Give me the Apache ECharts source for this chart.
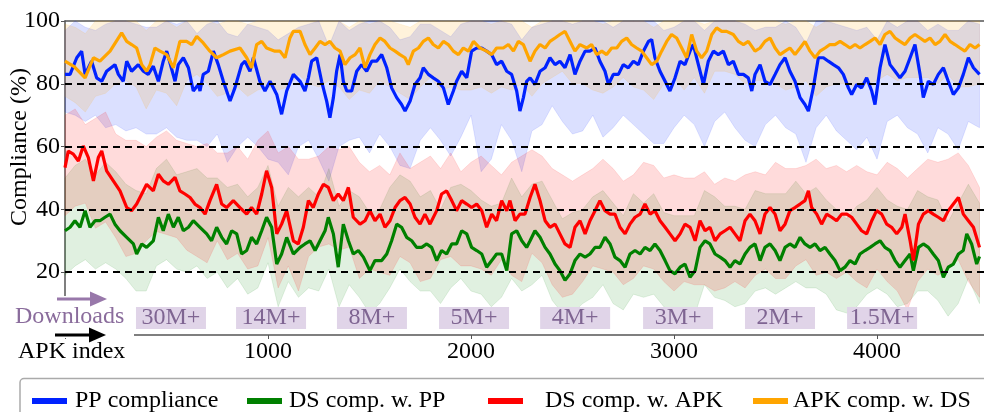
<!DOCTYPE html>
<html><head><meta charset="utf-8">
<script src="https://cdn.jsdelivr.net/npm/echarts@6/dist/echarts.min.js"></script>
<style>html,body{margin:0;padding:0;background:#fff}#c{width:984px;height:412px}</style>
</head><body><div id="c"></div><script>
// ---- mean curves: [APK index, compliance %] ----
const ppLine = [[0,83],[25,83],[58,88.3],[82,90.4],[99,83],[131,87.2],[156,81.9],[181,80.8],[205,84],[246,86.1],[263,83],[287,80.8],[304,87.2],[328,84],[361,86.1],[386,84],[410,83],[435,85.6],[460,80.8],[484,87.2],[501,90.4],[542,80.8],[558,86.1],[583,88.3],[608,85.1],[632,77.7],[657,79.8],[665,77.7],[681,83],[706,84],[731,90.4],[755,86.1],[780,80.8],[813,74.5],[837,78.7],[870,86.1],[887,87.2],[911,84],[928,88.3],[960,80.8],[985,77.7],[1010,80.8],[1043,76.6],[1067,70.3],[1092,77.7],[1125,83],[1158,80.8],
[1182,77.7],[1199,81.9],[1215,87.2],[1240,88.3],[1264,80.8],[1289,74.5],[1305,69.2],[1322,75.6],[1338,84],[1355,89.3],[1371,80.8],[1388,77.7],[1412,77.7],[1437,84],[1461,86.1],[1486,84],[1511,87.2],[1535,87.2],[1560,89.3],[1585,85.1],[1609,78.7],[1634,75.6],[1658,73.4],[1675,71.3],[1700,74.5],[1724,79.8],[1749,81.9],[1765,85.1],[1790,83],[1814,81.9],[1839,80.8],[1864,78.7],[1888,73.4],[1913,77.7],[1929,80.8],[1954,84],[1979,81.9],[2003,90.4],[2028,91.4],[2053,91.4],[2077,90.4],[2102,89.3],[2126,86.1],[2151,87.2],[2176,84],[2200,83],[2225,77.7],[2241,71.3],
[2258,75.6],[2274,80.8],[2291,81.9],[2315,79.8],[2340,84],[2365,85.1],[2389,88.3],[2414,86.1],[2438,87.2],[2463,85.1],[2488,89.3],[2512,83],[2537,87.2],[2562,90.4],[2586,90.4],[2611,91.4],[2635,87.2],[2660,84],[2677,79.8],[2701,83],[2726,83],[2750,86.1],[2775,85.1],[2800,87.2],[2824,86.1],[2849,90.4],[2874,93.5],[2890,94.1],[2906,88.3],[2931,84],[2956,80.8],[2980,77.7],[3005,81.9],[3030,87.2],[3054,86.1],[3079,90.4],[3095,92.5],[3120,86.1],[3145,79.8],[3169,87.2],[3194,90.4],[3218,89.3],[3243,90.4],[3268,86.1],[3292,87.2],[3317,83],[3342,83],[3366,81.9],[3383,77.7],
[3399,83],[3424,86.1],[3448,80.8],[3473,79.8],[3498,83],[3522,86.1],[3547,88.3],[3571,84],[3596,80.8],[3621,75.6],[3645,73.4],[3662,71.3],[3686,78.7],[3711,88.3],[3736,88.3],[3760,87.2],[3785,86.1],[3810,85.1],[3834,83],[3859,78.7],[3875,76.6],[3900,79.8],[3924,78.7],[3949,81.9],[3974,77.7],[3990,73.4],[4015,85.1],[4039,92.5],[4064,86.1],[4089,84],[4113,81.9],[4138,84],[4163,88.3],[4187,92.5],[4212,83],[4228,75.6],[4253,80.8],[4277,79.8],[4302,83],[4327,85.1],[4351,80.8],[4376,76.6],[4401,78.7],[4425,83],[4450,88.3],[4475,85.1],[4505,83]];

const dsPpLine = [[0,33.2],[25,34.3],[49,36.4],[74,34.3],[99,39.6],[123,34.3],[148,36.4],[172,36.4],[197,37.5],[222,38.5],[246,35.3],[271,33.2],[304,31.1],[337,29],[353,25.8],[378,29],[402,27.9],[435,30],[460,37.5],[484,33.2],[509,38.5],[534,34.3],[558,37.5],[583,33.2],[608,34.3],[632,36.4],[665,34.3],[698,32.2],[722,30],[747,34.3],[772,31.1],[796,29],[821,33.2],[846,32.2],[870,25.8],[895,26.9],[919,31.1],[944,29],[969,33.2],[993,37.5],[1018,34.3],[1043,22.6],[1067,25.8],[1092,31.1],[1125,25.8],
[1158,27.9],[1182,29],[1207,30],[1232,26.9],[1256,30],[1281,33.2],[1297,37.5],[1322,32.2],[1346,21.6],[1371,35.3],[1396,30],[1420,25.8],[1445,26.9],[1470,24.8],[1502,20.5],[1527,23.7],[1560,23.7],[1585,25.8],[1609,30],[1634,35.3],[1658,34.3],[1683,31.1],[1708,30],[1732,27.9],[1757,27.9],[1782,29],[1806,27.9],[1831,23.7],[1855,26.9],[1880,25.8],[1905,29],[1929,29],[1954,33.2],[1979,32.2],[2003,27.9],[2028,26.9],[2053,25.8],[2077,21.6],[2102,23.7],[2126,25.8],[2151,25.8],[2176,20.5],[2200,32.2],[2225,33.2],[2250,30],[2274,27.9],
[2291,30],[2315,33.2],[2340,31.1],[2365,27.9],[2389,25.8],[2414,22.6],[2438,20.5],[2463,17.4],[2488,19.5],[2512,23.7],[2537,25.8],[2562,24.8],[2586,25.8],[2611,27.9],[2635,27.9],[2660,31.1],[2685,29],[2709,24.8],[2734,23.7],[2759,21.6],[2783,25.8],[2808,26.9],[2833,25.8],[2857,27.9],[2882,26.9],[2906,29],[2931,26.9],[2956,23.7],[2980,20.5],[3005,19.5],[3030,21.6],[3054,22.6],[3079,18.4],[3104,20.5],[3128,27.9],[3153,30],[3177,29],[3202,25.8],[3227,24.8],[3251,23.7],[3276,21.6],[3300,23.7],[3325,22.6],[3350,25.8],[3374,27.9],
[3399,29],[3424,23.7],[3448,27.9],[3473,29],[3498,26.9],[3522,23.7],[3547,27.9],[3571,29],[3596,27.9],[3621,31.1],[3645,29],[3670,27.9],[3695,29],[3719,26.9],[3744,27.9],[3768,25.8],[3793,23.7],[3818,20.5],[3842,21.6],[3867,23.7],[3892,22.6],[3916,25.8],[3941,26.9],[3966,27.9],[3990,29],[4015,30],[4039,27.9],[4064,26.9],[4089,23.7],[4113,21.6],[4138,23.7],[4163,25.8],[4179,20.5],[4204,27.9],[4228,29],[4253,27.9],[4277,25.8],[4302,23.7],[4327,18.4],[4351,21.6],[4376,22.6],[4401,25.8],[4425,26.9],[4442,32.2],[4466,29],[4491,22.6],[4505,25]];

const dsApkLine = [[0,53.3],[16,58.6],[41,57.6],[66,55.4],[90,60.2],[115,56.5],[140,49.1],[164,56.5],[181,58.6],[205,52.3],[238,49.1],[271,45.9],[304,40.6],[328,39.6],[353,41.7],[378,44.9],[402,48],[435,45.9],[460,51.2],[484,49.1],[509,48],[542,50.2],[566,45.9],[591,44.9],[616,43.8],[640,41.7],[665,40.6],[690,38.5],[714,42.8],[747,48],[772,41.7],[796,40.6],[829,42.8],[862,40.6],[895,38.5],[919,40.6],[944,38.5],[969,44.9],[993,52.3],[1018,47],[1043,32.2],[1067,35.3],[1092,39.6],[1125,30],
[1149,29],[1174,34.3],[1199,42.8],[1223,40.6],[1248,44.9],[1273,48],[1297,47],[1322,42.8],[1346,44.9],[1371,42.8],[1396,47],[1420,37.5],[1453,35.3],[1478,36.4],[1502,39.6],[1527,36.4],[1552,38.5],[1576,34.3],[1601,36.4],[1626,40.6],[1650,42.8],[1675,43.8],[1700,41.7],[1724,37.5],[1749,35.3],[1773,38.5],[1798,35.3],[1831,39.6],[1855,44.9],[1880,45.9],[1905,42.8],[1929,39.6],[1954,42.8],[1979,41.7],[2003,40.6],[2028,41.7],[2053,39.6],[2077,34.3],[2102,38.5],[2126,36.4],[2151,42.8],[2176,39.6],[2192,42.8],[2217,36.4],[2241,38.5],
[2266,38.5],[2291,43.8],[2315,48],[2340,42.8],[2365,36.4],[2389,34.3],[2414,35.3],[2438,32.2],[2463,29],[2488,27.9],[2512,34.3],[2537,36.4],[2562,32.2],[2586,36.4],[2611,39.6],[2635,42.8],[2660,39.6],[2685,38.5],[2709,38.5],[2734,34.3],[2759,32.2],[2783,35.3],[2808,37.5],[2833,38.5],[2857,41.7],[2882,38.5],[2906,39.6],[2931,36.4],[2956,34.3],[2980,32.2],[3005,30],[3030,32.2],[3054,35.3],[3079,34.3],[3104,30],[3128,36.4],[3153,33.2],[3177,34.3],[3202,30],[3227,32.2],[3251,33.2],[3276,34.3],[3300,32.2],[3325,30],[3350,36.4],[3374,38.5],
[3399,36.4],[3424,32.2],[3448,38.5],[3473,40.6],[3498,38.5],[3522,33.2],[3547,35.3],[3571,39.6],[3596,40.6],[3621,41.7],[3645,42.8],[3662,45.9],[3678,40.6],[3703,38.5],[3727,35.3],[3752,38.5],[3777,37.5],[3801,36.4],[3826,38.5],[3851,38.5],[3875,37.5],[3900,35.3],[3924,33.2],[3949,32.2],[3974,36.4],[3998,39.6],[4023,38.5],[4048,35.3],[4072,34.3],[4097,32.2],[4122,34.3],[4138,38.5],[4163,30],[4179,23.7],[4204,35.3],[4228,38.5],[4253,39.6],[4277,38.5],[4302,37.5],[4327,36.4],[4351,39.6],[4376,41.7],[4401,43.8],[4425,38.5],[4450,36.4],[4475,34.3],[4505,27.9]];

const apkDsLine = [[0,87.2],[45,85.5],[99,81.9],[140,88.3],[172,87.2],[222,90.4],[279,96.2],[304,93.5],[328,92.5],[353,91.4],[378,86.1],[402,84],[419,86.1],[443,91.4],[468,90.4],[501,89.3],[534,85.1],[566,93.5],[599,93.5],[624,92.5],[649,95.1],[681,93],[714,90.4],[747,88.3],[780,89.3],[813,90.4],[862,91.4],[895,88.3],[919,85.1],[944,92.5],[969,93.5],[993,91.4],[1034,90.4],[1059,90.4],[1084,88.3],[1108,94.6],[1125,96.7],
[1158,96.7],[1182,92.5],[1207,89.3],[1232,91.4],[1256,93.5],[1281,92.5],[1305,93.5],[1330,91.4],[1355,90.4],[1379,86.1],[1404,88.3],[1429,89.3],[1453,91.4],[1478,85.1],[1502,89.3],[1527,92.5],[1552,94.6],[1576,93.5],[1601,91.4],[1626,90.4],[1650,89.3],[1675,88.3],[1691,86.1],[1716,90.4],[1741,91.4],[1765,93.5],[1790,94.6],[1814,92.5],[1839,91.4],[1864,93.5],[1888,92.5],[1913,90.4],[1938,89.3],[1962,91.4],[1987,90.4],[2012,93.5],[2044,91.4],[2077,90.4],[2102,89.3],[2126,91.4],[2159,91.4],[2184,92.5],[2209,90.4],[2233,93.5],[2258,92.5],
[2291,87.2],[2315,90.4],[2340,92.5],[2365,91.4],[2389,93.5],[2414,94.6],[2438,95.7],[2463,96.7],[2488,93.5],[2512,90.4],[2537,92.5],[2570,91.4],[2594,92.5],[2619,89.3],[2644,90.4],[2668,89.3],[2693,91.4],[2718,91.4],[2742,93.5],[2767,94.6],[2791,92.5],[2816,91.4],[2841,90.4],[2865,88.3],[2890,86.1],[2915,87.2],[2939,90.4],[2964,93.5],[2988,95.7],[3013,94.6],[3038,91.4],[3062,88.3],[3087,95.7],[3112,90.4],[3136,88.3],[3161,90.4],[3186,95.7],[3210,97.8],[3235,96.7],[3259,96.7],[3292,95.7],[3317,93.5],[3342,92.5],[3366,93.5],
[3399,90.4],[3424,91.4],[3448,93.5],[3473,94.6],[3498,91.4],[3522,89.3],[3547,90.4],[3571,91.4],[3596,89.3],[3621,91.4],[3645,93.5],[3670,90.4],[3695,88.3],[3719,90.4],[3744,91.4],[3768,92.5],[3793,92.5],[3818,93.5],[3842,92.5],[3867,91.4],[3892,92.5],[3916,91.4],[3941,92.5],[3966,93.5],[3990,94.6],[4015,92.5],[4039,95.7],[4064,96.7],[4089,94.6],[4113,93.5],[4138,92.5],[4163,94.6],[4187,95.7],[4212,94.6],[4236,93.5],[4261,94.6],[4286,92.5],[4310,93.5],[4335,95.7],[4360,93.5],[4384,92.5],[4409,91.4],[4433,90.4],[4458,92.5],[4483,91.4],[4505,92.5]];

// ---- shaded spread bands, sampled every 50 APK ----
const bandIndex = [0,50,100,150,200,250,300,350,400,450,500,550,600,650,700,750,800,850,900,950,1000,1050,1100,1150,
1200,1250,1300,1350,1400,1450,1500,1550,1600,1650,1700,1750,1800,1850,1900,1950,2000,2050,2100,2150,2200,2250,
2300,2350,2400,2450,2500,2550,2600,2650,2700,2750,2800,2850,2900,2950,3000,3050,3100,3150,3200,3250,3300,3350,3400,
3450,3500,3550,3600,3650,3700,3750,3800,3850,3900,3950,4000,4050,4100,4150,4200,4250,4300,4350,4400,4450,4505];

const ppUpper = [97,100,98,97,99,100,100,99,98,98,100,99,100,96,99,100,96,95,99,98,97,94,96,98,
99,100,92,100,97,99,100,100,98,94,95,99,99,97,95,99,100,100,100,100,99,94,
98,99,100,100,99,100,100,100,98,100,100,100,100,97,98,100,100,97,100,100,100,99,97,
98,98,100,98,93,100,100,99,98,97,98,94,100,98,100,100,97,99,97,97,100,99];
const ppLower = [71,70,68,70,66,67,65,66,64,64,66,63,62,62,60,64,55,60,63,60,56,55,51,60,
62,56,49,60,62,63,58,64,60,54,53,62,66,62,57,63,70,52,56,67,62,52,
65,67,73,68,64,65,70,63,66,70,67,64,61,61,66,70,67,60,68,71,66,62,60,
67,70,66,64,55,66,70,65,62,59,63,56,68,70,66,64,58,66,64,59,68,66];

const dsPpUpper = [50,54,56,51,55,52,48,46,45,53,56,51,52,53,50,50,47,48,44,47,54,41,47,44,
47,44,53,41,46,44,39,40,47,51,49,44,46,40,47,48,46,43,41,42,50,44,
48,49,43,37,39,40,44,46,42,38,45,42,45,39,38,38,38,46,44,41,41,40,46,
45,45,45,49,45,47,43,40,37,41,43,47,43,41,40,46,44,43,36,42,48,42];
const dsPpLower = [19,22,24,21,23,21,18,14,14,22,24,21,20,22,18,20,15,18,13,15,23,9,17,12,
15,14,21,9,16,12,7,10,15,21,17,14,14,10,15,18,14,13,9,12,18,14,
16,19,11,7,7,10,12,16,10,8,13,12,13,9,6,8,6,16,12,11,9,10,14,
15,13,15,17,15,15,13,8,7,9,13,15,13,9,10,14,14,11,6,10,18,10];

const dsApkUpper = [70,72,67,69,71,64,62,62,60,63,65,62,61,60,61,58,58,60,56,62,65,58,60,56,
56,57,60,59,60,55,52,54,51,58,53,55,57,53,58,52,55,57,54,51,55,57,
59,57,53,51,49,51,53,56,53,49,51,55,54,50,51,50,50,52,48,50,49,51,52,
51,55,53,53,54,56,53,54,52,54,52,51,55,53,50,53,56,55,56,58,54,47];
const dsApkLower = [38,41,42,34,36,31,25,26,30,33,32,31,27,25,23,30,24,26,21,22,31,15,22,14,
25,28,29,27,28,18,21,20,19,25,23,17,18,24,25,22,22,21,19,24,19,17,
26,23,16,12,13,17,22,21,20,16,18,22,21,17,14,17,16,16,14,15,17,15,19,
21,18,18,22,24,19,20,18,20,17,15,21,17,14,8,17,21,19,21,24,17,12];

const apkDsUpper = [99,98,96,100,100,100,100,100,97,100,100,98,100,100,100,99,100,100,99,100,100,100,100,100,
100,100,100,100,98,100,99,100,100,99,98,100,100,100,100,100,100,100,99,100,100,100,
98,100,100,100,100,100,100,99,100,100,100,100,98,100,100,100,100,99,100,100,100,100,100,
100,100,99,100,100,98,100,100,100,100,100,100,100,100,100,100,100,100,100,100,100,100];
const apkDsLower = [76,74,71,76,77,80,81,79,72,78,77,73,81,83,80,76,77,79,76,78,79,78,79,83,
80,79,81,79,75,78,77,81,79,77,75,79,82,78,79,78,78,79,77,79,78,80,
76,80,82,84,80,80,78,77,79,82,79,78,75,80,82,78,82,77,84,84,83,80,81,
81,80,78,79,81,76,79,80,80,79,80,81,83,81,82,82,82,80,83,79,79,80];

const seriesNames = ['PP compliance','DS comp. w. PP','DS comp. w. APK','APK comp. w. DS'];
const downloadLabels = ['30M+','14M+','8M+','5M+','4M+','3M+','2M+','1.5M+'];
const downloadPos = [522,1015,1512,2015,2513,3020,3522,4025];
const yTickLabels = [20,40,60,80,100];
const xTickLabels = [1000,2000,3000,4000];
const refLines = [20,40,60,80];

const FONT = "'Liberation Serif', 'DejaVu Serif', serif";
const colors = ['#0022ff','#008000','#ff0000','#ffa500'];
const fills = ['rgba(0,34,255,0.14)','rgba(0,128,0,0.12)','rgba(255,0,0,0.14)','rgba(255,165,0,0.14)'];
const edges = ['rgba(0,34,255,0.10)','rgba(0,128,0,0.10)','rgba(255,0,0,0.10)','rgba(255,165,0,0.10)'];
const lines = [ppLine, dsPpLine, dsApkLine, apkDsLine];
const uppers = [ppUpper, dsPpUpper, dsApkUpper, apkDsUpper];
const lowers = [ppLower, dsPpLower, dsApkLower, apkDsLower];

function bandSeries(lo, hi, fill, stroke) {
  return {
    type: 'custom', silent: true, z: 1,
    data: bandIndex.map((x, i) => [x, lo[i], hi[i]]),
    encode: { x: 0, y: [1, 2] },
    renderItem: function (params, api) {
      if (params.dataIndex !== 0) return null;
      const pts = [];
      for (let i = 0; i < bandIndex.length; i++) pts.push(api.coord([bandIndex[i], hi[i]]));
      for (let i = bandIndex.length - 1; i >= 0; i--) pts.push(api.coord([bandIndex[i], lo[i]]));
      return { type: 'polygon', shape: { points: pts }, style: { fill: fill, stroke: stroke, lineWidth: 1 } };
    }
  };
}

const series = [];
for (let s = 0; s < 4; s++) series.push(bandSeries(lowers[s], uppers[s], fills[s], edges[s]));
for (let s = 0; s < 4; s++) {
  series.push({
    type: 'line', name: seriesNames[s], symbol: 'none', z: 3, color: colors[s],
    data: lines[s],
    lineStyle: { color: colors[s], width: 3.2 },
    itemStyle: { color: colors[s] }
  });
}
series[series.length - 1].markLine = {
  silent: true, symbol: 'none', label: { show: false },
  lineStyle: { color: '#000', type: [7, 5], width: 2 },
  data: refLines.map(v => ({ yAxis: v }))
};
series.push({
  type: 'scatter', silent: true, z: 6,
  data: downloadPos.map(x => [x, 5.4]),
  symbol: 'rect', symbolSize: [70, 22],
  itemStyle: { color: '#e0d4e8', opacity: 1 },
  label: {
    show: true, position: 'inside', fontFamily: FONT, fontSize: 24, color: '#7f6592',
    formatter: p => downloadLabels[p.dataIndex]
  }
});

const legendLeft = [27, 242, 483, 748];
const legendGap = [8, 7, 22, 5];
const legends = seriesNames.map((n, i) => ({
  data: [n], left: legendLeft[i], top: 384, icon: 'rect', itemWidth: 35, itemHeight: 6,
  selectedMode: false,
  textStyle: { fontFamily: FONT, fontSize: 24, color: '#000', padding: [0, 0, 0, legendGap[i] - 5] }
}));

const chart = echarts.init(document.getElementById('c'), null, { renderer: 'canvas' });
chart.setOption({
  animation: false,
  backgroundColor: '#fff',
  textStyle: { fontFamily: FONT },
  grid: { left: 65, right: 0, top: 21, bottom: 77 },
  legend: legends,
  xAxis: [{
    type: 'value', min: 0, max: 4527, interval: 1000,
    axisLine: { show: true, lineStyle: { color: '#555', width: 1.5 } },
    axisTick: { show: true, length: 4, customValues: [0].concat(xTickLabels), lineStyle: { color: '#555' } },
    axisLabel: { customValues: xTickLabels, formatter: v => String(v), fontFamily: FONT, fontSize: 24, color: '#000', margin: 5 },
    splitLine: { show: false }
  }, {
    type: 'value', position: 'top', min: 0, max: 4527,
    axisLine: { show: true, lineStyle: { color: '#555', width: 1.5 } },
    axisTick: { show: false }, axisLabel: { show: false }, splitLine: { show: false }
  }],
  yAxis: {
    type: 'value', min: 0, max: 100, interval: 20,
    axisLine: { show: true, lineStyle: { color: '#555', width: 1.5 } },
    axisTick: { show: true, length: 4, customValues: yTickLabels, lineStyle: { color: '#555' } },
    axisLabel: { customValues: yTickLabels, formatter: v => String(v), fontFamily: FONT, fontSize: 24, color: '#000', margin: 5 },
    splitLine: { show: false }
  },
  graphic: [
    { type: 'rect', z: 100, shape: { x: 0, y: 296, width: 134, height: 42 }, style: { fill: '#fff' } },
    { type: 'text', z: 101, x: 20, y: 147, rotation: Math.PI / 2,
      style: { text: 'Compliance (%)', font: "24px 'Liberation Serif', serif", fill: '#000', align: 'center', verticalAlign: 'middle' } },
    { type: 'text', z: 101, x: 15, y: 317,
      style: { text: 'Downloads', font: "24px 'Liberation Serif', serif", fill: '#8a6c9c', align: 'left', verticalAlign: 'middle' } },
    { type: 'text', z: 101, x: 18, y: 352,
      style: { text: 'APK index', font: "24px 'Liberation Serif', serif", fill: '#000', align: 'left', verticalAlign: 'middle' } },
    { type: 'line', z: 101, shape: { x1: 57, y1: 299, x2: 93, y2: 299 }, style: { stroke: '#9878aa', lineWidth: 3 } },
    { type: 'polygon', z: 101, shape: { points: [[90, 291.5], [107, 299], [90, 306.5]] }, style: { fill: '#9878aa' } },
    { type: 'line', z: 101, shape: { x1: 55, y1: 335, x2: 92, y2: 335 }, style: { stroke: '#000', lineWidth: 3 } },
    { type: 'polygon', z: 101, shape: { points: [[89, 327.5], [106, 335], [89, 342.5]] }, style: { fill: '#000' } },
    { type: 'rect', z: 50, shape: { x: 20, y: 378.5, width: 990, height: 60, r: 4 },
      style: { fill: 'none', stroke: '#aaa', lineWidth: 1.5 } }
  ],
  series: series
});
</script></body></html>
